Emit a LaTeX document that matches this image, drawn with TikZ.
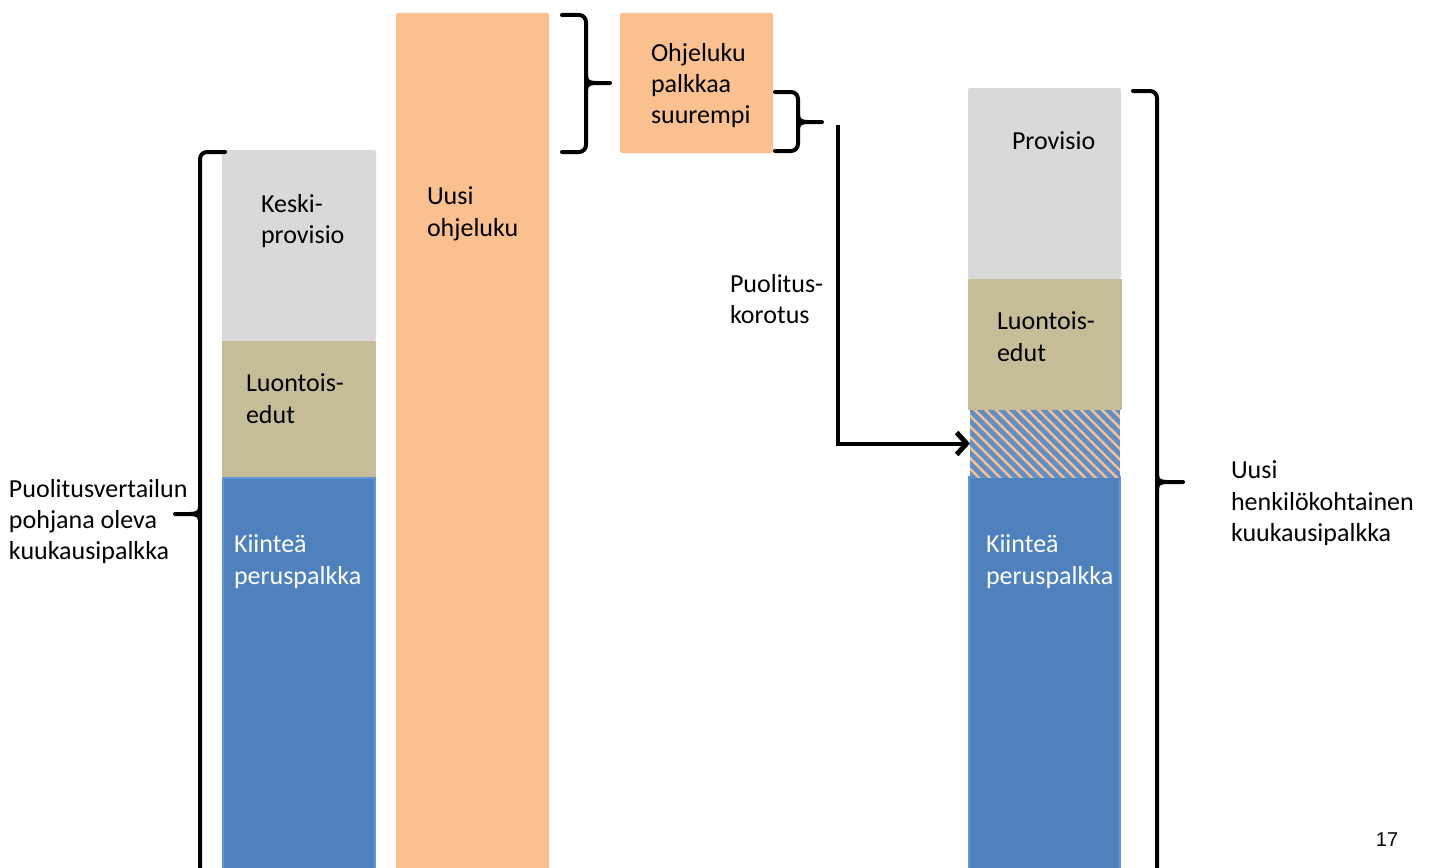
\documentclass[tikz,border=0pt]{standalone}
\usepackage{fontspec}
\setmainfont{Carlito}
\newfontfamily\arialfont{Liberation Sans}
\usetikzlibrary{patterns.meta, arrows.meta}
\definecolor{segGray}{HTML}{D9D9D9}
\definecolor{segTan}{HTML}{C4BD97}
\definecolor{segBlue}{HTML}{4F81BD}
\definecolor{segBlueEdge}{HTML}{5F96D8}
\definecolor{segOrange}{HTML}{FAC090}
\begin{document}
\begin{tikzpicture}[x=1pt,y=-1pt,
  seg/.style={anchor=north west, inner sep=0pt, outer sep=0pt},
  grayseg/.style={seg, fill=segGray, rounded corners=2pt},
  tanseg/.style={seg, fill=segTan},
  blueseg/.style={seg, fill=segBlue, draw=segBlueEdge, line width=2pt},
  orangeseg/.style={seg, fill=segOrange, rounded corners=2pt},
  lbl/.style={anchor=north west, inner sep=0pt, outer sep=0pt, align=left,
    font=\fontsize{26}{31.3}\selectfont, execute at begin node=\strut},
  wlbl/.style={lbl, text=white},
  brace/.style={line width=4pt, line cap=round, line join=round, rounded corners=7pt},
  tip/.style={line width=4pt, line cap=round, line join=round},
]
\useasboundingbox (0,0) rectangle (1431,867);
\clip (0,0) rectangle (1431,867);

% left bar
\node[grayseg, minimum width=154pt, minimum height=191pt] (lprov) at (222,150) {};
\node[tanseg, minimum width=154pt, minimum height=137pt] (ltan) at (222,341) {};
\node[blueseg, minimum width=152pt, minimum height=400pt] (lblue) at (223,478) {};

% orange bar and box
\node[orangeseg, minimum width=153pt, minimum height=880pt] (newrate) at (396,13) {};
\node[orangeseg, minimum width=153pt, minimum height=140pt] (excess) at (620,13) {};

% right bar
\node[grayseg, minimum width=153pt, minimum height=191pt] (rprov) at (968,88) {};
\node[tanseg, minimum width=154pt, minimum height=131pt] (rtan) at (968,279) {};
\node[blueseg, minimum width=151pt, minimum height=400pt] (rblue) at (969,477) {};
\node[seg, minimum width=150pt, minimum height=67pt,
  preaction={fill=segBlue!90!white},
  pattern={Lines[angle=-45, distance=7.5pt, line width=2.4pt]}, pattern color=segOrange] (hatch) at (970,410) {};

% labels
\node[lbl] (tbase) at (9,479) {Puolitusvertailun\\pohjana oleva\\kuukausipalkka};
\node[lbl] (tkeski) at (261,194) {Keski-\\provisio};
\node[lbl] (tluontL) at (246,374) {Luontois-\\edut};
\node[wlbl] (tkiintL) at (234,535) {Kiinteä\\peruspalkka};
\node[lbl] (tuusi) at (427,187) {Uusi\\ohjeluku};
\node[lbl] (tohje) at (651,43) {Ohjeluku\\palkkaa\\suurempi};
\node[lbl] (tpuol) at (730,274) {Puolitus-\\korotus};
\node[lbl] (tprov) at (1012,128) {Provisio};
\node[lbl] (tluontR) at (997,312) {Luontois-\\edut};
\node[wlbl] (tkiintR) at (986,535) {Kiinteä\\peruspalkka};
\node[lbl] (tnew) at (1231,461) {Uusi\\henkilökohtainen\\kuukausipalkka};
\node[anchor=base, inner sep=0pt, font=\arialfont\fontsize{20}{24}\selectfont] (pnum) at (1387,846) {17};

% braces
\coordinate (lbTop) at (225,152);
\coordinate (lbBot) at (200,890);
\draw[brace] (lbTop) -- (200,152) -- (lbBot);
\coordinate (lbTip) at (175,514);
\draw[tip] (200,507) .. controls (200,512) and (197,514) .. (190,514) -- (lbTip);
\draw[tip] (200,521) .. controls (200,516) and (197,514) .. (190,514);

\coordinate (obTop) at (562,15);
\coordinate (obBot) at (562,152);
\draw[brace] (obTop) -- (586,15) -- (586,152) -- (obBot);
\coordinate (obTip) at (610,83);
\draw[tip] (586,76) .. controls (586,81) and (589,83) .. (596,83) -- (obTip);
\draw[tip] (586,90) .. controls (586,85) and (589,83) .. (596,83);

\coordinate (sbTop) at (775,92);
\coordinate (sbBot) at (775,151);
\draw[brace] (sbTop) -- (798,92) -- (798,151) -- (sbBot);
\coordinate (sbTip) at (822,122);
\draw[tip] (798,115) .. controls (798,120) and (801,122) .. (808,122) -- (sbTip);
\draw[tip] (798,129) .. controls (798,124) and (801,122) .. (808,122);

\coordinate (rbTop) at (1133,91);
\coordinate (rbBot) at (1157,890);
\draw[brace] (rbTop) -- (1157,91) -- (rbBot);
\coordinate (rbTip) at (1183,482);
\draw[tip] (1157,475) .. controls (1157,480) and (1160,482) .. (1167,482) -- (rbTip);
\draw[tip] (1157,489) .. controls (1157,484) and (1160,482) .. (1167,482);

% arrow
\coordinate (splitTop) at (838,125);
\draw[line width=4pt, line join=miter, -{Straight Barb[length=10pt, width=22pt, line width=5pt]}]
  (splitTop) |- (hatch.west);
\end{tikzpicture}
\end{document}
